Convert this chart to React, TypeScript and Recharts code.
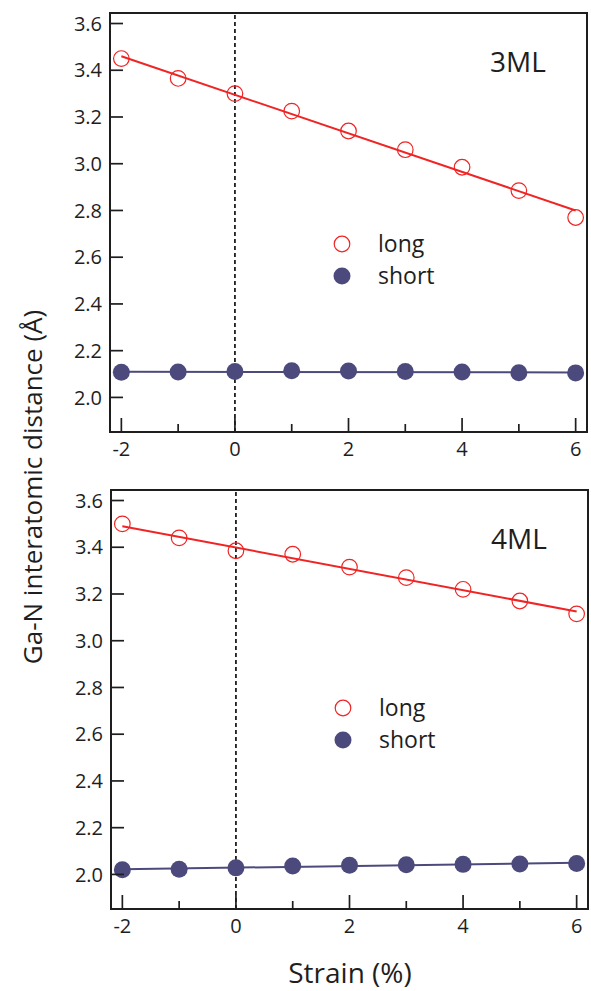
import React from 'react';
import {
  ScatterChart,
  Scatter,
  XAxis,
  YAxis,
  ReferenceLine,
  ReferenceArea,
} from 'recharts';

// strain values (%) shared by every series
const strain = [-2, -1, 0, 1, 2, 3, 4, 5, 6];
const fitStrain = [-2, 6];

// 3ML panel
const long3 = [3.45, 3.365, 3.3, 3.225, 3.14, 3.06, 2.985, 2.885, 2.77];
const short3 = [2.108, 2.109, 2.111, 2.114, 2.113, 2.111, 2.109, 2.106, 2.105];
const long3Fit = [3.46, 2.8];
const short3Fit = [2.11, 2.107];

// 4ML panel
const long4 = [3.5, 3.44, 3.385, 3.37, 3.315, 3.27, 3.22, 3.17, 3.115];
const short4 = [2.02, 2.022, 2.028, 2.036, 2.039, 2.041, 2.043, 2.045, 2.047];
const long4Fit = [3.49, 3.125];
const short4Fit = [2.022, 2.05];

const xTicks = [-2, -1, 0, 1, 2, 3, 4, 5, 6];
const yTicks = [2.0, 2.2, 2.4, 2.6, 2.8, 3.0, 3.2, 3.4, 3.6];

const FONT = '"Open Sans", "DejaVu Sans", sans-serif';
const INK = '#1e1e1e';
const RED = '#f02424';
const NAVY = '#4c4a7c';
const CHART_W = 591;
const CHART_H = 475;

const toPoints = (xs: number[], ys: number[]) => xs.map((x, i) => ({ x, y: ys[i] }));

const X_MARGIN = 9;
const Y_MARGIN = 8;

const XTick = (props: any) => {
  const { x, y, payload } = props;
  const axisY = y - X_MARGIN;
  const major = payload.value % 2 === 0;
  return (
    <g>
      <line x1={x} x2={x} y1={axisY} y2={axisY - (major ? 14 : 8)} stroke={INK} strokeWidth={1.7} />
      {major && (
        <text x={x} y={y} dy="0.75em" textAnchor="middle" fontSize={20} fill={INK} fontFamily={FONT}>
          {payload.value}
        </text>
      )}
    </g>
  );
};

const YTick = (props: any) => {
  const { x, y, payload } = props;
  const axisX = x + Y_MARGIN;
  return (
    <g>
      <line x1={axisX} x2={axisX + 13} y1={y} y2={y} stroke={INK} strokeWidth={1.7} />
      <text x={x} y={y} dy="0.36em" textAnchor="end" fontSize={20} fill={INK} fontFamily={FONT}>
        {Number(payload.value).toFixed(1)}
      </text>
    </g>
  );
};

const OpenDot = (props: any) => {
  const { cx, cy } = props;
  return <circle cx={cx} cy={cy} r={7.8} fill="none" stroke={RED} strokeWidth={1.2} />;
};

const FilledDot = (props: any) => {
  const { cx, cy } = props;
  return <circle cx={cx} cy={cy} r={8.5} fill={NAVY} />;
};

const NoDot = () => null;

interface PanelProps {
  top: number;
  left: number;
  label: string;
  legendTop: number;
  long: number[];
  short: number[];
  longFit: number[];
  shortFit: number[];
}

const Panel: React.FC<PanelProps> = ({ top, left, label, legendTop, long, short, longFit, shortFit }) => (
  <div style={{ position: 'absolute', left, top, width: CHART_W, height: CHART_H }}>
    <ScatterChart width={CHART_W} height={CHART_H} margin={{ top: 13, right: 4, bottom: 0, left: 0 }}>
      <XAxis
        type="number"
        dataKey="x"
        domain={[-2.2, 6.2]}
        ticks={xTicks}
        tick={<XTick />}
        tickLine={false}
        tickSize={0}
        tickMargin={X_MARGIN}
        axisLine={false}
        height={43}
        interval={0}
        allowDataOverflow
      />
      <YAxis
        type="number"
        dataKey="y"
        domain={[1.852, 3.645]}
        ticks={yTicks}
        tick={<YTick />}
        tickLine={false}
        tickSize={0}
        tickMargin={Y_MARGIN}
        axisLine={false}
        width={110}
        interval={0}
        allowDataOverflow
      />
      <ReferenceArea x1={-2.2} x2={6.2} y1={1.852} y2={3.645} fill="none" stroke={INK} strokeWidth={2} />
      <ReferenceLine x={0} stroke={INK} strokeWidth={1.8} strokeDasharray="4 3" />
      <Scatter data={toPoints(fitStrain, longFit)} line={{ stroke: RED, strokeWidth: 2 }} shape={<NoDot />} isAnimationActive={false} />
      <Scatter data={toPoints(fitStrain, shortFit)} line={{ stroke: NAVY, strokeWidth: 2 }} shape={<NoDot />} isAnimationActive={false} />
      <Scatter data={toPoints(strain, long)} shape={<OpenDot />} isAnimationActive={false} />
      <Scatter data={toPoints(strain, short)} shape={<FilledDot />} isAnimationActive={false} />
    </ScatterChart>
    <div
      style={{
        position: 'absolute',
        left: 518,
        top: 61,
        transform: 'translate(-50%, -50%)',
        fontSize: 28,
        fontFamily: FONT,
        color: INK,
        whiteSpace: 'nowrap',
      }}
    >
      {label}
    </div>
    <svg style={{ position: 'absolute', left: 331, top: legendTop - 11 }} width={22} height={56}>
      <circle cx={11} cy={11} r={7.8} fill="none" stroke={RED} strokeWidth={1.2} />
      <circle cx={11} cy={43} r={8.5} fill={NAVY} />
    </svg>
    <div
      style={{
        position: 'absolute',
        left: 378,
        top: legendTop - 17,
        fontSize: 23,
        fontFamily: FONT,
        color: INK,
        lineHeight: '32px',
      }}
    >
      <div>long</div>
      <div>short</div>
    </div>
  </div>
);

export default function App() {
  return (
    <div style={{ position: 'absolute', left: 0, top: 0, width: 591, height: 991, background: '#fff' }}>
      <Panel top={0} left={0} label="3ML" legendTop={244} long={long3} short={short3} longFit={long3Fit} shortFit={short3Fit} />
      <Panel top={477} left={1} label="4ML" legendTop={231} long={long4} short={short4} longFit={long4Fit} shortFit={short4Fit} />
      <div
        style={{
          position: 'absolute',
          left: 32,
          top: 487,
          transform: 'translate(-50%, -50%) rotate(-90deg)',
          whiteSpace: 'nowrap',
          fontSize: 26,
          fontFamily: FONT,
          color: INK,
        }}
      >
        Ga-N interatomic distance (Å)
      </div>
      <div
        style={{
          position: 'absolute',
          left: 350,
          top: 972,
          transform: 'translate(-50%, -50%)',
          whiteSpace: 'nowrap',
          fontSize: 28,
          fontFamily: FONT,
          color: INK,
        }}
      >
        Strain (%)
      </div>
    </div>
  );
}
